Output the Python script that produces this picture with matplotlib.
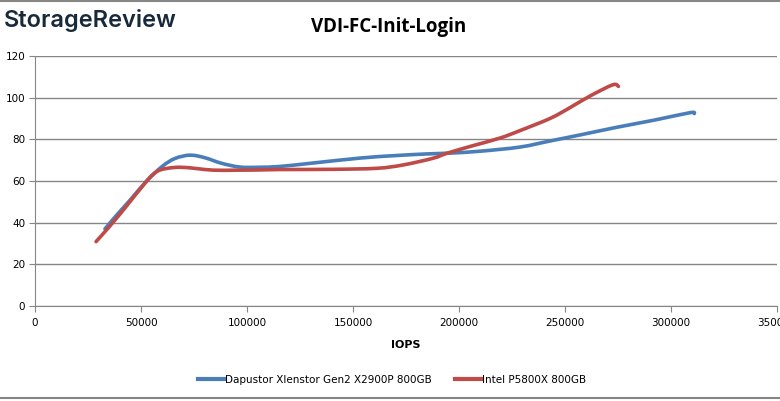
import matplotlib
matplotlib.use("Agg")
import matplotlib.pyplot as plt
from matplotlib.lines import Line2D
from matplotlib.path import Path
from matplotlib.patches import PathPatch

title = "VDI-FC-Init-Login"
x_label = "IOPS"
series_names = ["Dapustor Xlenstor Gen2 X2900P 800GB", "Intel P5800X 800GB"]

dap_iops = [33000, 38000, 45000, 52700, 60000, 66000, 73100, 80000, 88000, 96700,
            106000, 115600, 130000, 153300, 170000, 184900, 196000, 210000, 228800,
            242900, 258000, 274500, 292000, 309000, 311000]
dap_lat = [37, 43, 51, 60, 67, 70.8, 72.4, 71.2, 68.5, 66.7,
           66.6, 67.0, 68.5, 71.0, 72.2, 73.0, 73.4, 74.3, 76.3,
           79.2, 82.3, 85.8, 89.2, 92.8, 92.4]

int_iops = [28800, 35000, 42000, 52700, 57400, 62000, 68400, 76000, 84000, 95000,
            106000, 115600, 140000, 161300, 173600, 187700, 194300, 206000, 219300,
            228800, 242900, 252000, 261800, 272600, 275200]
int_lat = [30.9, 38, 46.5, 60, 64.5, 66.0, 66.6, 66.0, 65.2, 65.2,
           65.3, 65.5, 65.6, 66.1, 67.7, 70.9, 73.3, 76.8, 80.6,
           84.2, 90, 95, 100.8, 106.2, 105.4]

x_ticks = [0, 50000, 100000, 150000, 200000, 250000, 300000, 350000]
y_ticks = [0, 20, 40, 60, 80, 100, 120]

blue = "#4A7EBB"
red = "#BE4B48"
grid_c = "#868686"


def smooth_path(xs, ys):
    # Catmull-Rom style smoothing drawn as cubic Bezier segments
    n = len(xs)
    verts = [(xs[0], ys[0])]
    codes = [Path.MOVETO]
    for i in range(n - 1):
        x0, y0 = (xs[i - 1], ys[i - 1]) if i > 0 else (xs[i], ys[i])
        x1, y1 = xs[i], ys[i]
        x2, y2 = xs[i + 1], ys[i + 1]
        x3, y3 = (xs[i + 2], ys[i + 2]) if i + 2 < n else (xs[i + 1], ys[i + 1])
        c1 = (x1 + (x2 - x0) / 6, y1 + (y2 - y0) / 6)
        c2 = (x2 - (x3 - x1) / 6, y2 - (y3 - y1) / 6)
        verts += [c1, c2, (x2, y2)]
        codes += [Path.CURVE4] * 3
    return Path(verts, codes)


fig = plt.figure(figsize=(7.80, 4.01), dpi=100)
ax = fig.add_axes([35/780, 1-306/401, 742/780, 250/401])

for xs, ys, c in [(dap_iops, dap_lat, blue), (int_iops, int_lat, red)]:
    patch = PathPatch(smooth_path(xs, ys), facecolor="none", edgecolor=c, lw=2.6,
                      capstyle="round", joinstyle="round", zorder=3)
    ax.add_patch(patch)

ax.set_xlim(0, 350000)
ax.set_ylim(0, 120)
ax.set_xticks(x_ticks)
ax.set_yticks(y_ticks)
ax.set_xticklabels([str(v) for v in x_ticks], fontsize=7.5, family="DejaVu Sans")
ax.set_yticklabels([str(v) for v in y_ticks], fontsize=7.5, family="DejaVu Sans")
ax.grid(axis="y", color=grid_c, lw=1)
ax.set_axisbelow(True)
for s in ["top", "right"]:
    ax.spines[s].set_visible(False)
ax.spines["left"].set_color(grid_c)
ax.spines["bottom"].set_color(grid_c)
ax.tick_params(axis="x", direction="out", length=4, color=grid_c, pad=5)
ax.tick_params(axis="y", direction="out", length=4, color=grid_c, pad=3)
ax.set_xlabel(x_label, fontsize=8, fontweight="bold", labelpad=8)

fig.text(389/780, 1-27/401, title, ha="center", va="center", fontsize=13.5, fontweight="bold",
         family="Open Sans")
fig.text(4/780, 1-20/401, "StorageReview", ha="left", va="center", fontsize=17,
         color="#17293A", family="Inter", fontweight="semibold")

handles = [Line2D([], [], color=blue, lw=3), Line2D([], [], color=red, lw=3)]
fig.legend(handles, series_names, loc="center", bbox_to_anchor=(392/780, 1-380/401),
           ncol=2, frameon=False, fontsize=7.5, handlelength=2.6, handletextpad=0.0,
           columnspacing=2.2)

fig.add_artist(Line2D([0, 1], [1-0.5/401, 1-0.5/401], color=grid_c, lw=1.5, transform=fig.transFigure))
fig.add_artist(Line2D([0, 1], [1-398/401, 1-398/401], color=grid_c, lw=1.5, transform=fig.transFigure))

fig.savefig("out.png", dpi=100)
